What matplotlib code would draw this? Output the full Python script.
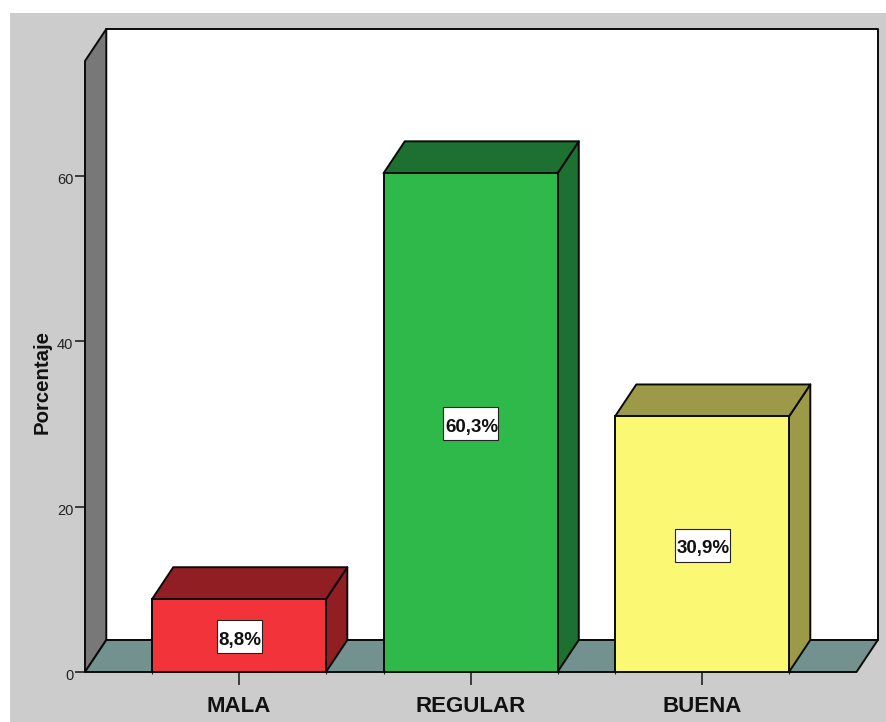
# coding: utf-8
import matplotlib
matplotlib.use('Agg')
from matplotlib import pyplot as plt
from matplotlib.patches import Polygon, Rectangle
from matplotlib.transforms import ScaledTranslation

categories = ['MALA', 'REGULAR', 'BUENA']
values = [8.8, 60.3, 30.9]
labels = ['8,8%', '60,3%', '30,9%']
yticks = [0, 20, 40, 60]

front_colors = ['#F3333A', '#2FB94B', '#FBF873']
dark_colors = ['#911E22', '#1D7030', '#9C9A48']

W, H = 886, 722
# plot front plane in pixels
LEFT, RIGHT, BOTTOM, TOP = 85, 856.5, 672, 61
PX_PER_CAT = 231.5
PX_PER_UNIT = 8.27
X0 = 239
BAR_W = 174 / PX_PER_CAT
DX = 21.3 / PX_PER_CAT
DY = 32 / PX_PER_UNIT
BOX_W = [45 / PX_PER_CAT, 55 / PX_PER_CAT, 55 / PX_PER_CAT]
BOX_H = 33 / PX_PER_UNIT
LW = 1.4
EDGE = '#0A0A0A'


def poly(ax, pts, color, z):
    ax.add_patch(Polygon(pts, closed=True, facecolor=color, edgecolor=EDGE,
                         linewidth=LW, joinstyle='round', clip_on=False, zorder=z))


def main():
    plt.rcParams['font.family'] = ['Liberation Sans', 'DejaVu Sans']
    fig = plt.figure(figsize=(W / 100, H / 100), dpi=100, facecolor='white')
    fig.patches.append(Rectangle((10 / W, 0), 1, 1 - 13 / H, transform=fig.transFigure,
                                 facecolor='#CCCCCC', edgecolor='none', zorder=-5))
    ax = fig.add_axes([LEFT / W, 1 - BOTTOM / H, (RIGHT - LEFT) / W, (BOTTOM - TOP) / H])
    ax.patch.set_visible(False)
    xmin = (LEFT - X0) / PX_PER_CAT
    xmax = (RIGHT - X0) / PX_PER_CAT
    ymax = (BOTTOM - TOP) / PX_PER_UNIT
    ax.set_xlim(xmin, xmax)
    ax.set_ylim(0, ymax)
    for s in ax.spines.values():
        s.set_visible(False)

    # back wall, side wall, floor
    poly(ax, [(xmin + DX, DY), (xmax + DX, DY), (xmax + DX, ymax + DY), (xmin + DX, ymax + DY)], 'white', 1)
    poly(ax, [(xmin, 0), (xmin + DX, DY), (xmin + DX, ymax + DY), (xmin, ymax)], '#787878', 2)
    poly(ax, [(xmin, 0), (xmax, 0), (xmax + DX, DY), (xmin + DX, DY)], '#72918F', 2)

    for i, v in enumerate(values):
        l = i - BAR_W / 2
        r = i + BAR_W / 2
        poly(ax, [(r, 0), (r + DX, DY), (r + DX, v + DY), (r, v)], dark_colors[i], 3)
        poly(ax, [(l, v), (r, v), (r + DX, v + DY), (l + DX, v + DY)], dark_colors[i], 3)
        ax.bar(i, v, width=BAR_W, color=front_colors[i], edgecolor=EDGE, linewidth=LW, zorder=4)
        # value label in a white box, sitting a pixel low
        cy = v / 2 - 1 / PX_PER_UNIT
        ax.add_patch(Rectangle((i - BOX_W[i] / 2, cy - BOX_H / 2), BOX_W[i], BOX_H,
                               facecolor='white', edgecolor='#222222', linewidth=0.8, zorder=5))
        ax.text(i + 1 / PX_PER_CAT, cy - 3.5 / PX_PER_UNIT, labels[i], ha='center', va='center',
                fontsize=13.5, fontweight='bold', color='#111111', zorder=6)

    ax.set_yticks(yticks)
    ax.set_yticklabels([str(t) for t in yticks], fontsize=10.5, color='#222222')
    ax.tick_params(axis='y', length=7, width=1.2, pad=1.5, color='#222222')
    # tick labels sit a bit under their ticks
    shift = ScaledTranslation(0, -2 / 72, fig.dpi_scale_trans)
    for t in ax.get_yticklabels():
        t.set_transform(t.get_transform() + shift)
    ax.set_xticks(range(len(categories)))
    ax.set_xticklabels(categories, fontsize=16, fontweight='bold', color='#111111')
    ax.tick_params(axis='x', length=9.5, width=1.2, pad=7.5, color='#222222')
    # tiny marks at the bar edges
    edges = [i + s * BAR_W / 2 for i in range(len(categories)) for s in (-1, 1)]
    ax.set_xticks(edges, minor=True)
    ax.tick_params(axis='x', which='minor', length=1.5, width=0.8, color='#222222')
    ax.set_ylabel('Porcentaje', fontsize=14.7, fontweight='bold', color='#111111')
    ax.yaxis.set_label_coords((52 - LEFT) / (RIGHT - LEFT), (BOTTOM - 381.5) / (BOTTOM - TOP))

    fig.savefig('out.png', dpi=100, facecolor='white')


if __name__ == '__main__':
    main()
